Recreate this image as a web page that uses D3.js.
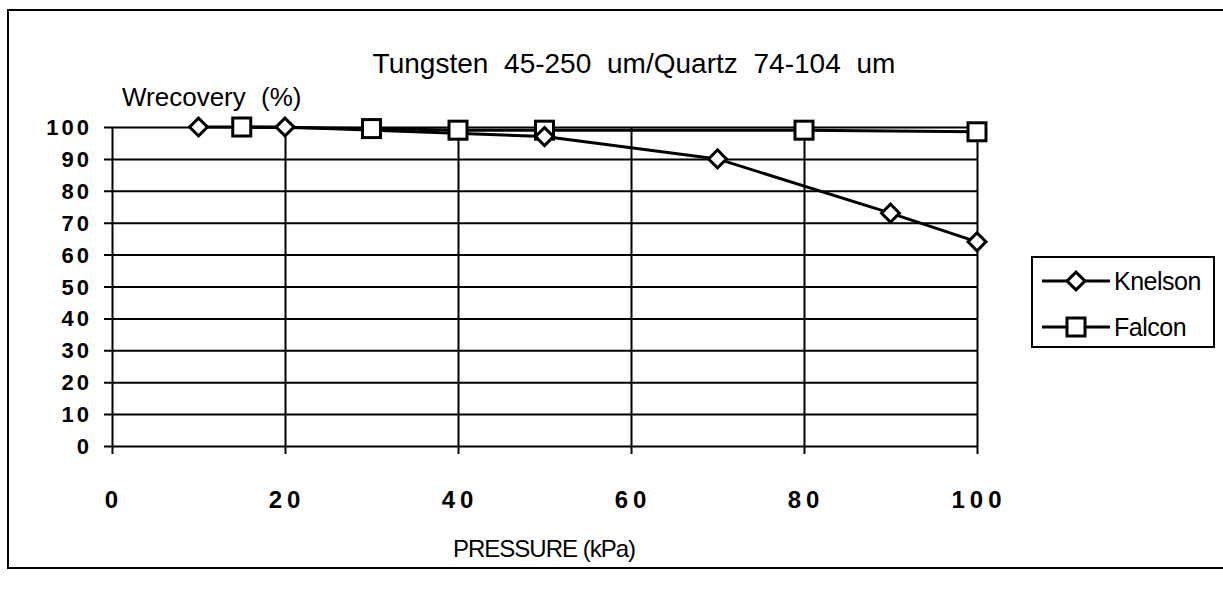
<!DOCTYPE html>
<html>
<head>
<meta charset="utf-8">
<script src="https://cdn.jsdelivr.net/npm/d3@7"></script>
<style>
  body { margin: 0; background: #fff; }
  svg { display: block; }
  text { font-family: "Liberation Sans", Arial, sans-serif; fill: #000; }
</style>
</head>
<body>
<svg id="chart" width="1223" height="596"></svg>
<script>
// data
const pressureKnelson = [10, 20, 50, 70, 90, 100];
const recoveryKnelson = [100, 100, 97, 90, 73, 64];
const pressureFalcon = [15, 30, 40, 50, 80, 100];
const recoveryFalcon = [100, 99.5, 99, 99, 99, 98.5];
const xTicks = [0, 20, 40, 60, 80, 100];
const yTicks = [0, 10, 20, 30, 40, 50, 60, 70, 80, 90, 100];
const seriesNames = ['Knelson', 'Falcon'];

const svg = d3.select('#chart');

// frame round the whole chart (right side runs off the page)
svg.append('rect')
    .attr('x', 8).attr('y', 10)
    .attr('width', 1240).attr('height', 558)
    .attr('fill', 'none')
    .attr('stroke', '#000')
    .attr('stroke-width', 2);

const x = d3.scaleLinear().domain([0, 100]).range([112, 977]);
const y = d3.scaleLinear().domain([0, 100]).range([446, 127]);

// horizontal grid with ticks out to the left
svg.append('g')
    .attr('transform', `translate(${x(0)},0)`)
    .call(d3.axisLeft(y).tickValues(yTicks).tickSize(-(x(100) - x(0))).tickSizeOuter(0).tickFormat(''))
    .call(g => g.select('.domain').remove())
    .call(g => g.selectAll('.tick line').attr('x1', -8).attr('stroke-width', 2));

// vertical grid with ticks out below
svg.append('g')
    .attr('transform', `translate(0,${y(0)})`)
    .call(d3.axisBottom(x).tickValues(xTicks).tickSize(-(y(0) - y(100))).tickSizeOuter(0).tickFormat(''))
    .call(g => g.select('.domain').remove())
    .call(g => g.selectAll('.tick line').attr('y1', 8).attr('stroke-width', 2));

// tick labels
svg.append('g').selectAll('text')
    .data(yTicks)
    .enter().append('text')
    .attr('x', 92)
    .attr('y', d => y(d) + 8)
    .attr('text-anchor', 'end')
    .attr('font-size', 22)
    .attr('font-weight', 'bold')
    .attr('letter-spacing', 3)
    .text(d => d);

svg.append('g').selectAll('text')
    .data(xTicks)
    .enter().append('text')
    .attr('x', d => x(d) + 2)
    .attr('y', 508)
    .attr('text-anchor', 'middle')
    .attr('font-size', 24)
    .attr('font-weight', 'bold')
    .attr('letter-spacing', 5)
    .text(d => d);

// titles
svg.append('text')
    .attr('x', 634).attr('y', 73)
    .attr('text-anchor', 'middle')
    .attr('font-size', 28)
    .attr('word-spacing', 8)
    .text('Tungsten 45-250 um/Quartz 74-104 um');

svg.append('text')
    .attr('x', 122).attr('y', 106)
    .attr('font-size', 26)
    .attr('word-spacing', 8)
    .text('Wrecovery (%)');

svg.append('text')
    .attr('x', 544).attr('y', 557)
    .attr('text-anchor', 'middle')
    .attr('font-size', 24)
    .attr('letter-spacing', -1)
    .text('PRESSURE (kPa)');

const line = d3.line().x(d => x(d[0])).y(d => y(d[1]));
const knelson = d3.zip(pressureKnelson, recoveryKnelson);
const falcon = d3.zip(pressureFalcon, recoveryFalcon);

svg.append('path').datum(falcon)
    .attr('d', line).attr('fill', 'none').attr('stroke', '#000').attr('stroke-width', 3);
svg.append('path').datum(knelson)
    .attr('d', line).attr('fill', 'none').attr('stroke', '#000').attr('stroke-width', 3);

const diamond = d3.symbol().type(d3.symbolSquare).size(160);
function drawDiamond(g, cx, cy) {
    g.append('path')
        .attr('d', diamond())
        .attr('transform', `translate(${cx},${cy}) rotate(45)`)
        .attr('fill', '#fff').attr('stroke', '#000').attr('stroke-width', 3);
}
function drawSquare(g, cx, cy) {
    g.append('rect')
        .attr('x', cx - 9).attr('y', cy - 9)
        .attr('width', 18).attr('height', 18)
        .attr('fill', '#fff').attr('stroke', '#000').attr('stroke-width', 3);
}

const marks = svg.append('g');
falcon.forEach(d => drawSquare(marks, x(d[0]), y(d[1])));
knelson.forEach(d => drawDiamond(marks, x(d[0]), y(d[1])));

// legend
const legend = svg.append('g');
legend.append('rect')
    .attr('x', 1032).attr('y', 257)
    .attr('width', 182).attr('height', 90)
    .attr('fill', '#fff').attr('stroke', '#000').attr('stroke-width', 2);
seriesNames.forEach((name, i) => {
    const ly = 281 + i * 46;
    legend.append('line')
        .attr('x1', 1042).attr('x2', 1110)
        .attr('y1', ly).attr('y2', ly)
        .attr('stroke', '#000').attr('stroke-width', 3);
    if (i === 0) drawDiamond(legend, 1076, ly);
    else drawSquare(legend, 1076, ly);
    legend.append('text')
        .attr('x', 1114).attr('y', ly + 9)
        .attr('font-size', 25)
        .attr('letter-spacing', -0.5)
        .text(name);
});
</script>
</body>
</html>
